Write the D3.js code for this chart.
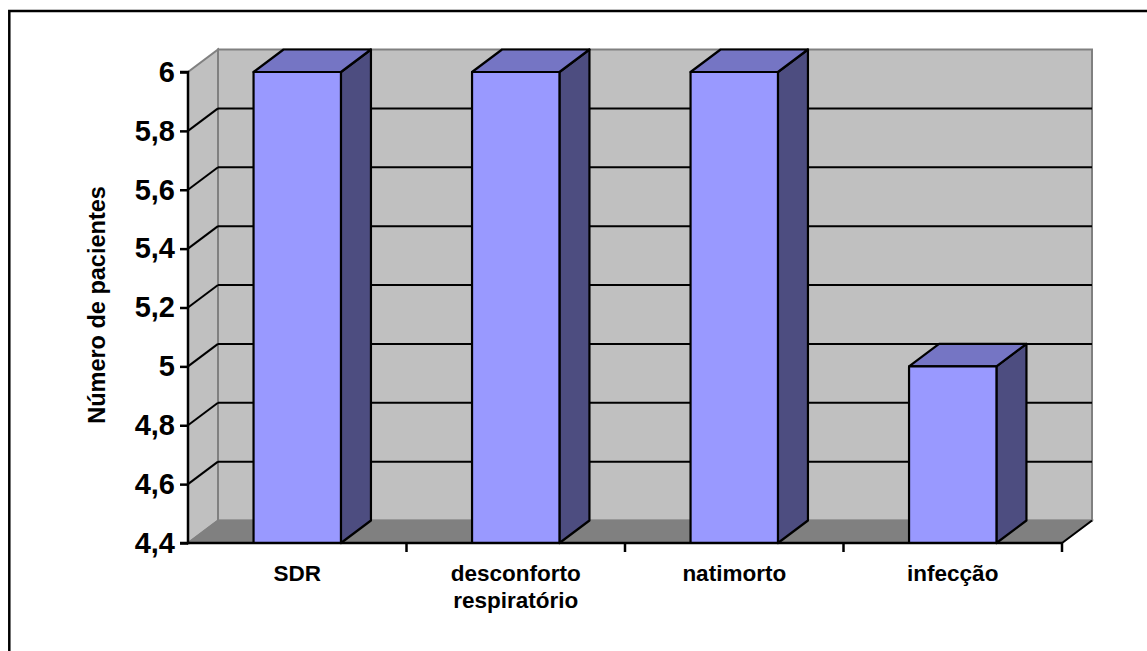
<!DOCTYPE html>
<html>
<head>
<meta charset="utf-8">
<script src="https://cdn.jsdelivr.net/npm/d3@7/dist/d3.min.js"></script>
<style>
  html, body { margin: 0; padding: 0; background: #fff; }
  svg { display: block; }
  text { font-family: "Liberation Sans", Arial, sans-serif; font-weight: bold; fill: #000; }
</style>
</head>
<body>
<svg id="chart" width="1147" height="651"></svg>
<script>
// Causes and patient counts
const categories = ["SDR", "desconforto\nrespiratório", "natimorto", "infecção"];
const values = [6, 6, 6, 5];
const yTicks = [4.4, 4.6, 4.8, 5, 5.2, 5.4, 5.6, 5.8, 6];
const gridValues = [4.6, 4.8, 5, 5.2, 5.4, 5.6, 5.8];
const yTitle = "Número de pacientes";

const svg = d3.select("#chart");

// Front plane of the 3D plot and depth offset of the back wall
const plotLeft = 188, plotRight = 1062, plotBottom = 543, plotTop = 72;
const dx = 30, dy = 22.5;

const y = d3.scaleLinear().domain([4.4, 6]).range([plotBottom, plotTop]);
const x = d3.scaleBand().domain(categories).range([plotLeft, plotRight])
  .paddingInner(0.6).paddingOuter(0.3);

const wallFill = "#c0c0c0", wallEdge = "#808080";

// Outer chart-area border
svg.append("rect")
  .attr("x", 9.3).attr("y", 11).attr("width", 1200).attr("height", 700)
  .attr("fill", "none").attr("stroke", "#000").attr("stroke-width", 2.5);

const plot = svg.append("g");
const pts = a => a.map(p => p.join(",")).join(" ");

// Back wall
plot.append("rect")
  .attr("x", plotLeft + dx).attr("y", y(6) - dy)
  .attr("width", plotRight - plotLeft).attr("height", plotBottom - y(6))
  .attr("fill", wallFill).attr("stroke", wallEdge).attr("stroke-width", 2);

// Side wall
plot.append("polygon")
  .attr("points", pts([[plotLeft, plotBottom], [plotLeft, y(6)], [plotLeft + dx, y(6) - dy], [plotLeft + dx, plotBottom - dy]]))
  .attr("fill", wallFill).attr("stroke", wallEdge).attr("stroke-width", 2);

// Floor
plot.append("polygon")
  .attr("points", pts([[plotLeft, plotBottom], [plotRight, plotBottom], [plotRight + dx, plotBottom - dy], [plotLeft + dx, plotBottom - dy]]))
  .attr("fill", "#808080").attr("stroke", wallEdge).attr("stroke-width", 1.5);

// Gridlines on the back wall and the side wall
const grid = plot.append("g").attr("stroke", "#000").attr("stroke-width", 2).attr("fill", "none");
grid.selectAll("line.back").data(gridValues).join("line")
  .attr("class", "back")
  .attr("x1", plotLeft + dx).attr("x2", plotRight + dx)
  .attr("y1", d => y(d) - dy).attr("y2", d => y(d) - dy);
grid.selectAll("line.side").data(gridValues).join("line")
  .attr("class", "side")
  .attr("x1", plotLeft).attr("x2", plotLeft + dx)
  .attr("y1", d => y(d)).attr("y2", d => y(d) - dy);

// Floor front-right edge
plot.append("line")
  .attr("x1", plotRight).attr("y1", plotBottom).attr("x2", plotRight + dx).attr("y2", plotBottom - dy)
  .attr("stroke", "#000").attr("stroke-width", 2);

// Columns
const bars = plot.selectAll("g.bar")
  .data(categories.map((c, i) => ({ c, v: values[i] })))
  .join("g").attr("class", "bar")
  .attr("stroke", "#000").attr("stroke-width", 2.2).attr("stroke-linejoin", "round");

bars.each(function (d) {
  const g = d3.select(this);
  const x0 = x(d.c), x1 = x0 + x.bandwidth(), yt = y(d.v);
  g.append("polygon")
    .attr("points", pts([[x1, yt], [x1 + dx, yt - dy], [x1 + dx, plotBottom - dy], [x1, plotBottom]]))
    .attr("fill", "#4d4d80");
  g.append("polygon")
    .attr("points", pts([[x0, yt], [x0 + dx, yt - dy], [x1 + dx, yt - dy], [x1, yt]]))
    .attr("fill", "#7575c4");
  g.append("rect")
    .attr("x", x0).attr("y", yt).attr("width", x1 - x0).attr("height", plotBottom - yt)
    .attr("fill", "#9999ff");
});

// Value axis
const yAxis = d3.axisLeft(y).tickValues(yTicks).tickSize(8).tickPadding(5)
  .tickFormat(d => String(d).replace(".", ","));
const ya = svg.append("g").attr("transform", `translate(${plotLeft},0)`).call(yAxis);
ya.select(".domain").attr("stroke", "#000").attr("stroke-width", 2.5).attr("d", `M-8,${plotTop}H0V${plotBottom}H-8`);
ya.selectAll(".tick line").attr("stroke", "#000").attr("stroke-width", 2.5);
ya.selectAll(".tick text").attr("font-size", 29).attr("font-family", "Liberation Sans, Arial, sans-serif")
  .attr("font-weight", "bold").attr("fill", "#000");

// Category axis along the front edge of the floor
const xa = svg.append("g").attr("transform", `translate(0,${plotBottom})`);
xa.append("line").attr("x1", plotLeft).attr("x2", plotRight).attr("y1", 0).attr("y2", 0)
  .attr("stroke", "#000").attr("stroke-width", 2.5);
const boundaries = categories.map((c, i) => plotLeft + (i + 1) * x.step());
xa.selectAll("line.tick").data(boundaries).join("line")
  .attr("class", "tick")
  .attr("x1", d => d).attr("x2", d => d).attr("y1", 0).attr("y2", 9)
  .attr("stroke", "#000").attr("stroke-width", 2.5);

xa.selectAll("text.cat").data(categories).join("text")
  .attr("class", "cat")
  .attr("text-anchor", "middle")
  .attr("font-size", 22.5)
  .attr("x", d => x(d) + x.bandwidth() / 2)
  .attr("y", 38)
  .each(function (d) {
    const t = d3.select(this);
    d.split("\n").forEach((line, i) => {
      t.append("tspan").attr("x", x(d) + x.bandwidth() / 2).attr("dy", i ? 27 : 0).text(line);
    });
  });

// Value-axis title
svg.append("text")
  .attr("transform", "translate(105,305) rotate(-90)")
  .attr("text-anchor", "middle")
  .attr("font-size", 23.5)
  .text(yTitle);
</script>
</body>
</html>
